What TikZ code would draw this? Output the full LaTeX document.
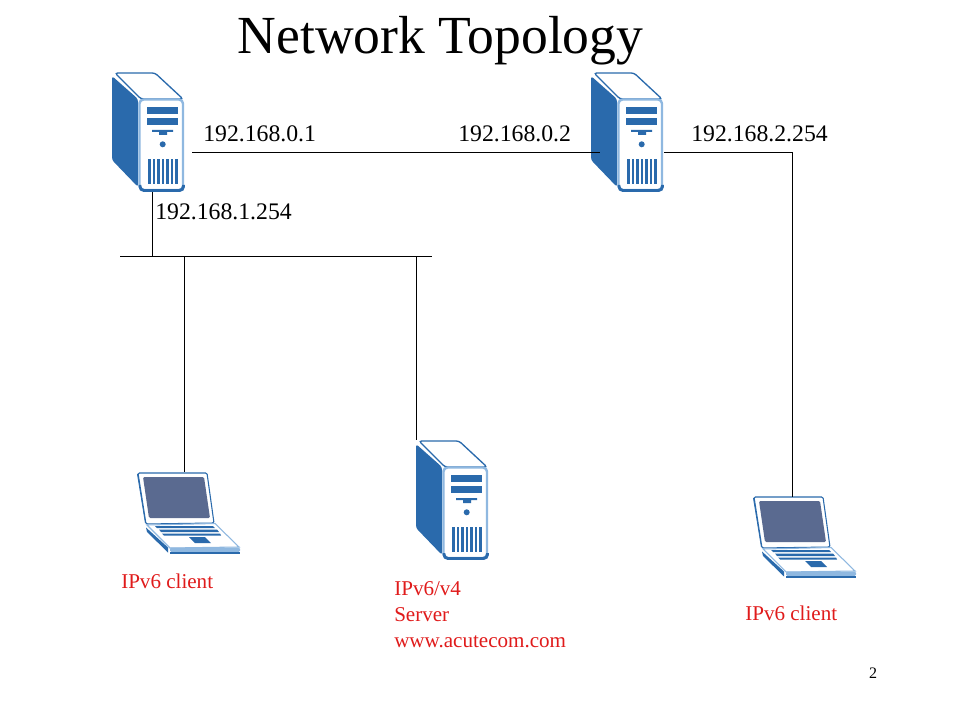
\documentclass[tikz,border=0pt]{standalone}
\usepackage{fontspec}
\setmainfont{Liberation Serif}
\definecolor{iconblue}{HTML}{2A6AAC}
\definecolor{iconpale}{HTML}{8FB8E0}
\definecolor{iconscreen}{HTML}{5A6A90}
\definecolor{labelred}{HTML}{E01B1B}
\begin{document}
\begin{tikzpicture}[
    x=0.75pt,
    y=-0.75pt,
    wire/.style={line width=0.75pt,black},
    iplabel/.style={font=\fontsize{17.8}{20}\selectfont,anchor=base west,inner sep=0pt},
    redlabel/.style={font=\fontsize{15.8}{19.5}\selectfont,text=labelred,anchor=base west,inner sep=0pt,align=left},
    servericon/.pic={
      \fill[iconblue,rounded corners=2pt] (0,4) -- (26,27) -- (26,115) -- (0,88) -- cycle;
      \draw[iconblue,fill=white,line width=1pt,rounded corners=2pt]
        (3,1) -- (43,1) -- (71,27) -- (29,27) -- cycle;
      \draw[iconpale,fill=white,line width=1.8pt,rounded corners=3pt]
        (27.5,27.5) rectangle (71,118);
      \draw[iconblue,line width=2.2pt,rounded corners=3pt] (28,113) -- (28,118.5) -- (71.5,118.5) -- (71.5,113);
      \fill[iconblue] (35,35) rectangle (66,42);
      \fill[iconblue] (35,46) rectangle (66,53);
      \fill[iconblue] (40,58) -- (61,58) -- (61,60) -- (55,60) -- (55,63) -- (47,63) -- (47,60) -- (40,60) -- cycle;
      \fill[iconblue] (50.7,72.3) circle (3);
      \foreach \ventx in {37.3,41.9,46.5,51,55.5,60.1,64.7}
        \fill[iconblue] (\ventx-1.3,87) rectangle (\ventx+1.3,112);
    },
    laptopicon/.pic={
      \fill[iconblue] (1,2) -- (4,1) -- (12,51) -- (9,51) -- cycle;
      \draw[iconblue,fill=white,line width=0.8pt,rounded corners=1pt]
        (2,1) -- (71,1) -- (78,51) -- (10,52) -- cycle;
      \fill[iconscreen,rounded corners=1pt] (7,5) -- (68,5) -- (74,46) -- (13,46) -- cycle;
      \draw[iconpale,fill=white,line width=0.8pt]
        (11,53) -- (79,51.5) -- (103,75) -- (34,76) -- cycle;
      \fill[iconblue] (10,55.5) -- (32,75.5) -- (32,80.5) -- (11,60) -- cycle;
      \fill[iconpale,rounded corners=1pt] (34,75.5) rectangle (104,80);
      \fill[iconblue] (34,80) rectangle (104,81.5);
      \fill[iconblue] (19,54) -- (77,54) -- (79,56) -- (21,56) -- cycle;
      \fill[iconblue] (23,57.5) -- (81,57.5) -- (83,60) -- (25,60) -- cycle;
      \fill[iconblue] (26,61.5) -- (84,61.5) -- (85,63.5) -- (28,63.5) -- cycle;
      \fill[iconblue] (53,65) -- (69,65) -- (75,71) -- (59,71) -- cycle;
    }
  ]
    \useasboundingbox (0,0) rectangle (960,720);

    \pic at (112,72) {servericon};
    \pic at (591,72) {servericon};
    \pic at (416,440) {servericon};
    \pic at (136,472) {laptopicon};
    \pic at (752,496) {laptopicon};

    \coordinate (routerAright) at (192,153);
    \coordinate (routerAdown) at (152,192);
    \coordinate (routerBleft) at (600,153);
    \coordinate (routerBright) at (664,153);
    \coordinate (busleft) at (120,257);
    \coordinate (busright) at (432,257);
    \coordinate (busA) at (152,257);
    \coordinate (busB) at (184,257);
    \coordinate (busC) at (416,257);
    \coordinate (clientA) at (184,472);
    \coordinate (serverC) at (416,440);
    \coordinate (clientB) at (792,497);

    \draw[wire] (routerAright) -- (routerBleft);
    \draw[wire] (routerBright) -| (clientB);
    \draw[wire] (routerAdown) -- (busA);
    \draw[wire] (busleft) -- (busright);
    \draw[wire] (busB) -- (clientA);
    \draw[wire] (busC) -- (serverC);

    \node[font=\fontsize{40.2}{44}\selectfont,anchor=base] (title) at (440.5,54) {Network Topology};

    \node[iplabel] (ipA) at (203,142) {192.168.0.1};
    \node[iplabel] (ipB) at (458,142) {192.168.0.2};
    \node[iplabel] (ipC) at (691,142) {192.168.2.254};
    \node[iplabel] (ipD) at (155,220) {192.168.1.254};

    \node[redlabel] (nameA) at (121,588) {IPv6 client};
    \node[redlabel] (nameB) at (394,647) {IPv6/v4\\Server\\www.acutecom.com};
    \node[redlabel] (nameC) at (745,620) {IPv6 client};

    \node[font=\fontsize{12}{14}\selectfont,inner sep=0pt] (pagenum) at (873,673) {2};
  \end{tikzpicture}
\end{document}
